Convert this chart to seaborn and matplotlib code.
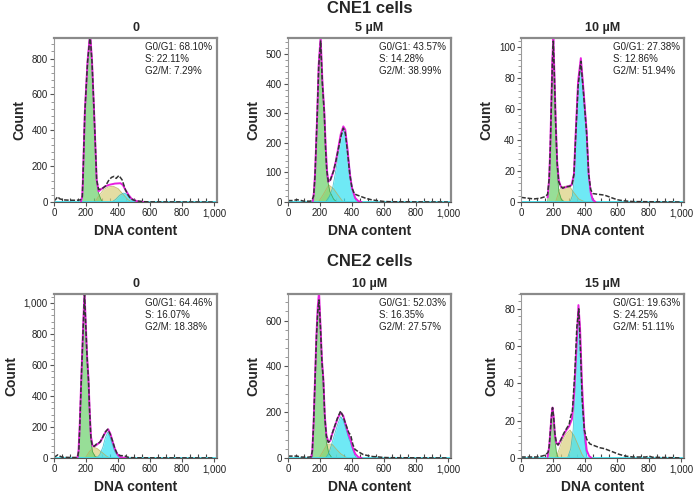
import matplotlib
matplotlib.use("Agg")
import matplotlib.pyplot as plt
import seaborn as sns
from matplotlib.ticker import MultipleLocator, AutoMinorLocator, FuncFormatter

# ---- data (DNA content, count) ----
# CNE1, 0
cne1_0_hist = [(0, 8), (10, 15), (22, 30), (35, 18), (60, 12), (100, 10), (140, 10), (165, 12), (176, 30),
               (180, 124), (192, 500), (209, 781), (225, 930), (237, 781), (250, 500), (266, 124), (278, 70),
               (300, 75), (320, 88), (344, 125), (360, 138), (374, 143), (388, 132), (405, 148), (425, 124),
               (446, 68), (462, 40), (477, 20), (500, 10), (530, 5), (560, 2), (600, 1), (1000, 0)]
cne1_0_g1 = [(168, 0), (176, 25), (180, 115), (192, 490), (209, 770), (225, 905), (237, 770), (250, 490),
             (266, 115), (278, 50), (290, 20), (303, 0)]
cne1_0_s = [(255, 0), (280, 35), (310, 70), (340, 85), (370, 88), (400, 75), (430, 45), (460, 15), (485, 0)]
cne1_0_g2 = [(360, 0), (385, 15), (410, 38), (435, 50), (452, 45), (470, 25), (490, 8), (510, 0)]
cne1_0_fit = [(168, 3), (176, 32), (180, 124), (192, 500), (209, 785), (225, 945), (237, 785), (250, 500),
              (266, 124), (278, 60), (295, 72), (320, 88), (344, 96), (380, 103), (415, 105), (430, 95),
              (446, 68), (465, 40), (485, 18), (500, 11), (520, 4), (560, 0)]

# CNE1, 5 uM
cne1_5_hist = [(0, 5), (30, 5), (55, 8), (75, 6), (100, 3), (140, 3), (150, 6), (160, 20), (168, 80), (175, 180),
               (183, 300), (192, 460), (204, 545), (215, 400), (227, 300), (235, 180), (242, 109), (252, 69),
               (265, 75), (285, 105), (300, 140), (315, 180), (330, 220), (346, 250), (358, 235), (372, 170),
               (387, 90), (400, 48), (415, 28), (430, 24), (460, 18), (490, 12), (520, 8), (554, 5), (600, 2),
               (650, 1), (1000, 0)]
cne1_5_g1 = [(155, 0), (162, 30), (170, 100), (183, 290), (192, 440), (204, 525), (215, 390), (227, 290),
             (236, 160), (245, 80), (262, 35), (285, 10), (305, 0)]
cne1_5_s = [(190, 0), (220, 25), (255, 58), (285, 45), (315, 22), (345, 0)]
cne1_5_g2 = [(235, 0), (260, 20), (280, 50), (300, 109), (320, 180), (335, 225), (348, 242), (362, 225),
             (378, 150), (395, 70), (410, 25), (430, 0)]
cne1_5_fit = [(155, 3), (162, 32), (170, 105), (183, 302), (192, 465), (204, 560), (215, 410), (227, 305),
              (236, 185), (244, 105), (252, 69), (265, 75), (285, 105), (300, 140), (315, 185), (330, 230),
              (346, 256), (358, 245), (372, 180), (387, 95), (400, 48), (420, 14), (440, 3), (460, 0)]

# CNE1, 10 uM
cne1_10_hist = [(0, 3), (40, 2.5), (80, 2), (120, 2.5), (150, 3.5), (165, 5), (175, 15), (182, 35), (188, 60),
                (195, 90), (201, 104), (208, 80), (216, 50), (225, 25), (235, 13), (248, 10), (260, 9), (280, 10),
                (300, 10), (318, 11), (330, 18), (342, 45), (356, 75), (373, 91), (390, 70), (409, 45), (422, 18),
                (435, 8), (448, 5.5), (480, 5), (520, 4.5), (560, 3), (600, 1.5), (640, 0.8), (700, 0.3),
                (1000, 0)]
cne1_10_g1 = [(165, 0), (175, 10), (182, 30), (188, 55), (195, 85), (201, 98), (208, 75), (216, 45), (225, 20),
              (235, 7), (250, 2), (270, 0)]
cne1_10_s = [(215, 0), (240, 8), (260, 10), (300, 10.5), (330, 6), (360, 2), (400, 0)]
cne1_10_g2 = [(305, 0), (320, 4), (330, 13), (342, 42), (356, 72), (373, 89), (390, 68), (409, 43), (422, 16),
              (435, 5), (448, 0)]
cne1_10_fit = [(165, 3), (175, 15), (182, 36), (188, 62), (195, 92), (201, 107), (208, 82), (216, 52), (225, 26),
               (235, 14), (248, 10), (260, 9), (290, 10), (315, 11), (330, 18), (342, 47), (356, 78), (373, 93),
               (390, 72), (409, 46), (422, 18), (435, 6), (448, 1.5), (465, 0)]

# CNE2, 0
cne2_0_hist = [(0, 5), (12, 12), (23, 20), (35, 12), (50, 5), (100, 3), (140, 3), (148, 10), (155, 60),
               (162, 250), (168, 450), (175, 650), (182, 850), (190, 1055), (198, 850), (206, 650), (215, 500),
               (222, 300), (230, 130), (238, 80), (250, 75), (265, 90), (285, 100), (300, 125), (318, 165),
               (335, 185), (350, 155), (365, 110), (380, 60), (395, 25), (415, 15), (440, 14), (460, 5),
               (480, 2), (520, 1), (1000, 0)]
cne2_0_g1 = [(145, 0), (152, 30), (160, 200), (168, 440), (175, 640), (182, 840), (190, 1040), (198, 830),
             (206, 630), (215, 480), (222, 280), (230, 110), (240, 40), (255, 12), (275, 0)]
cne2_0_s = [(195, 0), (220, 40), (245, 70), (270, 60), (300, 35), (330, 10), (350, 0)]
cne2_0_g2 = [(265, 0), (285, 20), (305, 70), (320, 130), (335, 165), (350, 135), (365, 85), (380, 40),
             (400, 10), (420, 0)]
cne2_0_fit = [(145, 3), (152, 35), (160, 210), (168, 455), (175, 660), (182, 860), (190, 1075), (198, 860),
              (206, 660), (215, 505), (222, 310), (230, 140), (240, 80), (252, 75), (270, 88), (290, 105),
              (310, 145), (325, 172), (338, 185), (352, 155), (366, 105), (380, 58), (395, 25), (410, 8),
              (430, 2), (450, 0)]

# CNE2, 10 uM
cne2_10_hist = [(0, 8), (25, 8), (55, 8), (80, 4), (120, 3), (145, 5), (152, 30), (160, 150), (169, 340),
                (178, 530), (186, 640), (194, 690), (203, 570), (212, 420), (221, 340), (230, 180), (240, 95),
                (252, 68), (265, 75), (273, 100), (290, 135), (310, 175), (329, 205), (345, 180), (365, 140),
                (380, 110), (392, 100), (405, 60), (418, 38), (430, 32), (445, 25), (470, 15), (500, 10),
                (530, 6), (555, 5), (600, 2), (650, 1), (1000, 0)]
cne2_10_g1 = [(145, 0), (152, 25), (160, 140), (169, 330), (178, 520), (186, 620), (194, 680), (203, 560),
              (212, 410), (221, 320), (230, 160), (240, 70), (255, 20), (275, 0)]
cne2_10_s = [(195, 0), (220, 30), (245, 60), (275, 60), (300, 40), (330, 18), (370, 0)]
cne2_10_g2 = [(235, 0), (255, 20), (273, 60), (290, 100), (310, 145), (329, 180), (345, 165), (365, 120),
              (380, 85), (392, 65), (405, 35), (418, 12), (430, 0)]
cne2_10_fit = [(145, 3), (152, 30), (160, 150), (169, 345), (178, 540), (186, 660), (194, 725), (203, 580),
               (212, 430), (221, 345), (230, 185), (240, 100), (252, 70), (265, 76), (273, 98), (290, 132),
               (310, 172), (329, 198), (345, 185), (365, 135), (380, 100), (392, 78), (405, 45), (420, 18),
               (440, 3), (460, 0)]

# CNE2, 15 uM
cne2_15_hist = [(0, 0.5), (60, 0.5), (100, 0.5), (130, 1), (150, 1.5), (168, 3), (175, 6), (183, 15), (190, 23),
                (196, 27), (203, 22), (211, 13), (220, 8), (230, 7), (245, 9), (265, 13), (285, 16), (300, 18),
                (310, 22.5), (320, 25), (335, 45), (348, 70), (360, 80), (370, 60), (382, 30), (395, 15),
                (410, 10), (430, 7.5), (460, 6.5), (490, 5.5), (520, 5), (550, 4), (580, 3), (610, 2), (650, 1),
                (700, 0.5), (780, 0.5), (800, 1), (820, 0.4), (1000, 0)]
cne2_15_g1 = [(165, 0), (175, 5), (183, 13), (190, 21), (196, 25), (203, 20), (211, 10), (220, 3), (232, 0)]
cne2_15_s = [(215, 0), (235, 4), (255, 9), (280, 13), (305, 15), (330, 12), (355, 7), (380, 2), (395, 0)]
cne2_15_g2 = [(290, 0), (310, 5), (325, 15), (340, 40), (352, 65), (362, 75), (372, 55), (385, 25), (398, 8),
              (412, 0)]
cne2_15_fit = [(165, 0.5), (175, 6), (183, 15), (190, 23), (196, 27), (203, 22), (211, 12), (220, 8), (232, 7),
               (250, 10), (275, 14), (300, 17), (318, 21), (330, 33), (345, 58), (358, 82), (368, 70), (380, 40),
               (395, 15), (410, 4), (425, 1), (440, 0)]

panel_titles = ["0", "5 \u00b5M", "10 \u00b5M", "0", "10 \u00b5M", "15 \u00b5M"]
phase_text = [
    ("68.10%", "22.11%", "7.29%"),
    ("43.57%", "14.28%", "38.99%"),
    ("27.38%", "12.86%", "51.94%"),
    ("64.46%", "16.07%", "18.38%"),
    ("52.03%", "16.35%", "27.57%"),
    ("19.63%", "24.25%", "51.11%"),
]
y_max = [915, 555, 106, 1058, 716, 88]
y_step = [200, 100, 20, 200, 200, 20]
row_titles = ["CNE1 cells", "CNE2 cells"]

panels = [
    (cne1_0_hist, cne1_0_g1, cne1_0_s, cne1_0_g2, cne1_0_fit),
    (cne1_5_hist, cne1_5_g1, cne1_5_s, cne1_5_g2, cne1_5_fit),
    (cne1_10_hist, cne1_10_g1, cne1_10_s, cne1_10_g2, cne1_10_fit),
    (cne2_0_hist, cne2_0_g1, cne2_0_s, cne2_0_g2, cne2_0_fit),
    (cne2_10_hist, cne2_10_g1, cne2_10_s, cne2_10_g2, cne2_10_fit),
    (cne2_15_hist, cne2_15_g1, cne2_15_s, cne2_15_g2, cne2_15_fit),
]

sns.set_style("white")
plt.rcParams["font.family"] = ["Liberation Sans", "DejaVu Sans"]

GREEN = "#74d474"
YELLOW = "#dcd284"
CYAN = "#3fe2f2"
MAGENTA = "#e81ee0"


def xy(pts):
    return [p[0] for p in pts], [p[1] for p in pts]


def fill(ax, pts, color, edge):
    x, y = xy(pts)
    ax.fill_between(x, 0, y, color=color, alpha=0.75, lw=0)
    ax.plot(x, y, color=edge, lw=0.6, alpha=0.8)


fig = plt.figure(figsize=(6.94, 4.94), dpi=100)
lefts = [0.078, 0.415, 0.751]
bottoms = [0.591, 0.073]
w, h = 0.235, 0.332
fmt = FuncFormatter(lambda v, p: f"{int(v):,}")

for i, (hist, g1, s, g2, fit) in enumerate(panels):
    r, c = divmod(i, 3)
    ax = fig.add_axes([lefts[c], bottoms[r], w, h])

    fill(ax, s, YELLOW, "#b8ae5a")
    fill(ax, g1, GREEN, "#3f9a3f")
    fill(ax, g2, CYAN, "#20b8c8")
    ax.axhline(0, color=CYAN, lw=2, zorder=2)

    fx, fy = xy(fit)
    sns.lineplot(x=fx, y=fy, ax=ax, color=MAGENTA, lw=1.4, sort=False, estimator=None)
    hx, hy = xy(hist)
    sns.lineplot(x=hx, y=hy, ax=ax, color="#333333", lw=1.1, sort=False, estimator=None,
                 linestyle=(0, (3, 1.2)))

    ax.set_xlim(0, 1020)
    ax.set_ylim(0, y_max[i])
    ax.xaxis.set_major_locator(MultipleLocator(200))
    ax.xaxis.set_minor_locator(MultipleLocator(50))
    ax.yaxis.set_major_locator(MultipleLocator(y_step[i]))
    ax.yaxis.set_minor_locator(AutoMinorLocator(5))
    ax.xaxis.set_major_formatter(fmt)
    ax.yaxis.set_major_formatter(fmt)
    ax.tick_params(axis="both", which="major", labelsize=7, length=3, width=0.8, color="#555555",
                   labelcolor="#222222", pad=1.5)
    ax.tick_params(axis="x", which="minor", direction="in", length=3, width=0.8, color="#444444")
    ax.tick_params(axis="y", which="minor", length=2, width=0.6, color="#888888")
    ax.tick_params(bottom=True, left=True, which="both")

    for side in ["top", "right"]:
        ax.spines[side].set_color("#8a8a8a")
        ax.spines[side].set_linewidth(1.6)
    ax.spines["left"].set_color("#9a9a9a")
    ax.spines["left"].set_linewidth(0.8)
    ax.spines["bottom"].set_color("#555555")
    ax.spines["bottom"].set_linewidth(0.8)

    ax.set_title(panel_titles[i], fontsize=9, fontweight="bold", pad=5)
    ax.set_xlabel("DNA content", fontsize=10, fontweight="bold", labelpad=4)
    ax.set_ylabel("Count", fontsize=10, fontweight="bold", labelpad=4)

    g, sp, m = phase_text[i]
    ax.text(0.56, 0.975, f"G0/G1: {g}\nS: {sp}\nG2/M: {m}", transform=ax.transAxes,
            ha="left", va="top", fontsize=7, color="#222222", linespacing=1.25)

fig.text(0.533, 0.982, row_titles[0], ha="center", va="center", fontsize=12, fontweight="bold")
fig.text(0.533, 0.470, row_titles[1], ha="center", va="center", fontsize=12, fontweight="bold")

fig.savefig("out.png", dpi=100)
